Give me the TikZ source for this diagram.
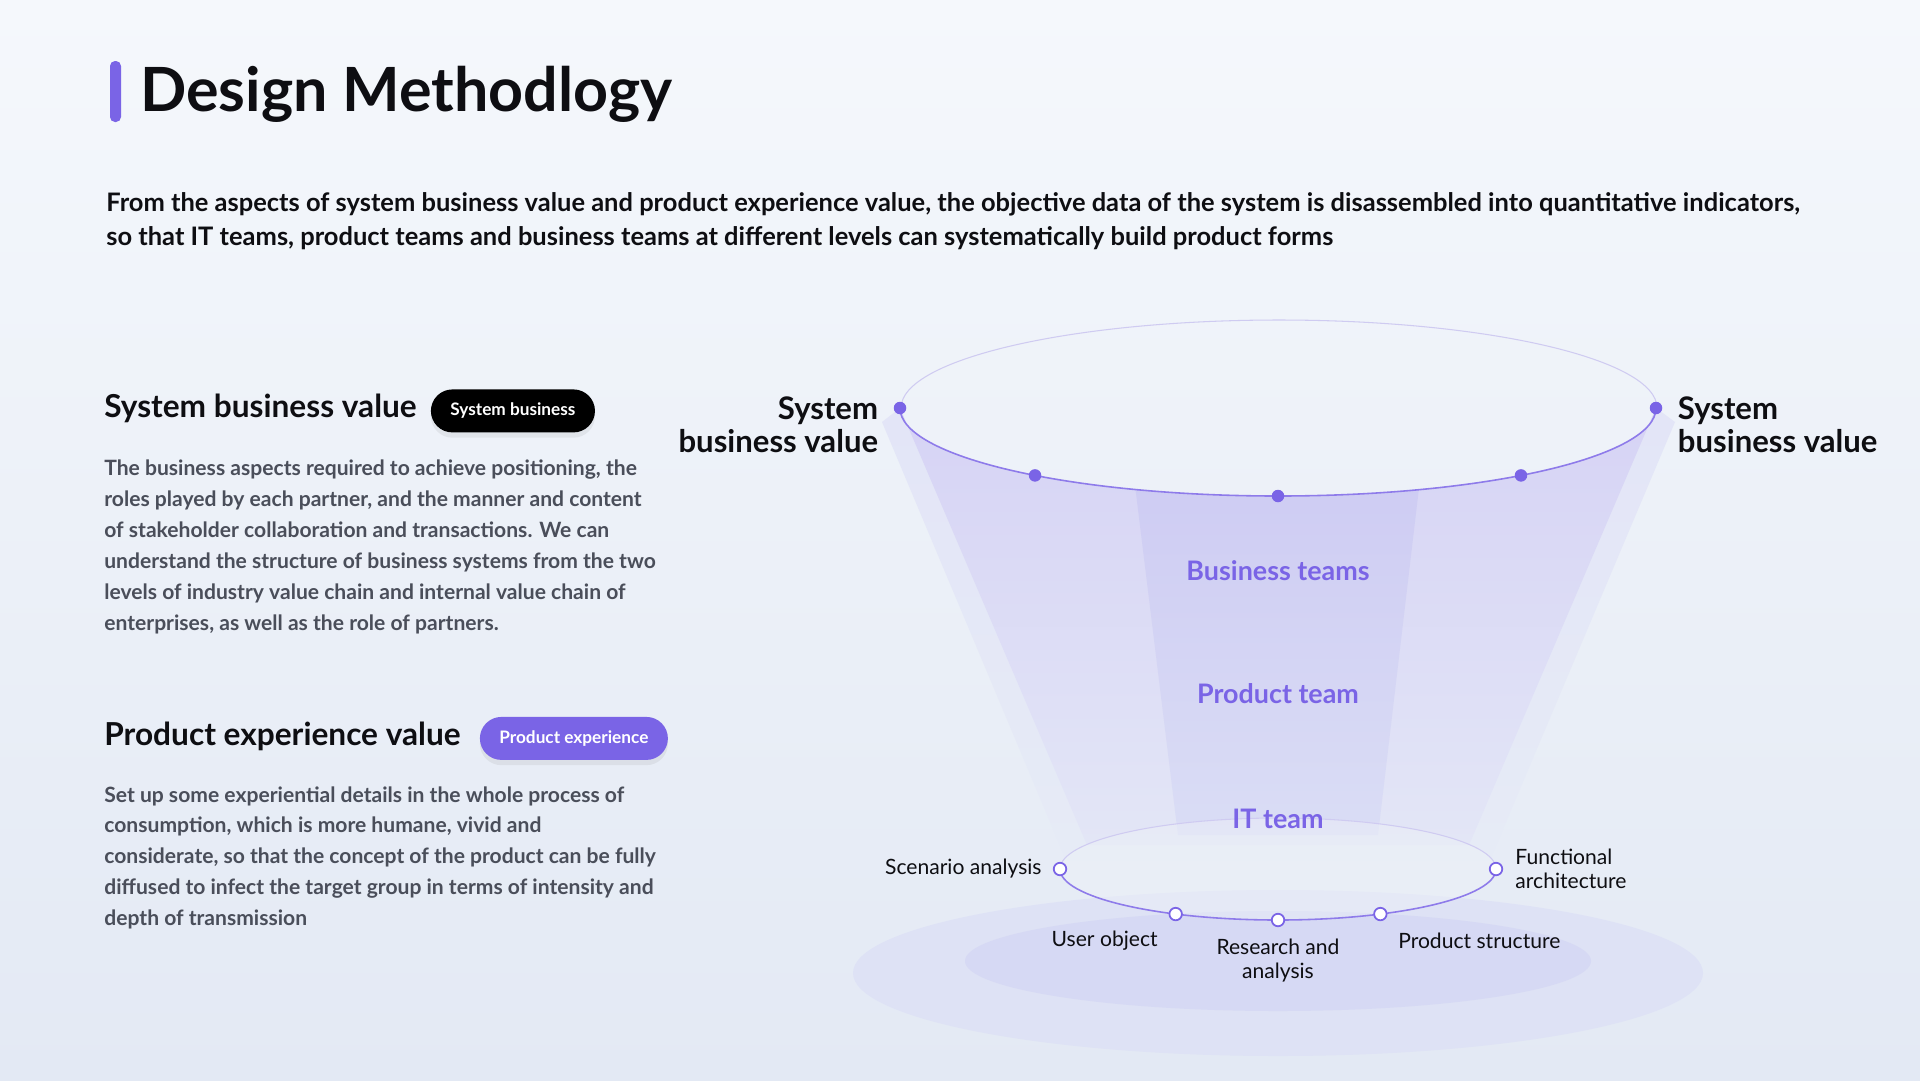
\documentclass[tikz,border=0pt]{standalone}
\usepackage{fontspec}
\setmainfont{Lato}
\usepackage{xcolor}
\usetikzlibrary{positioning,calc,shadows}
\definecolor{accent}{HTML}{7A64E6}
\definecolor{ink}{HTML}{0E0E12}
\definecolor{bodygray}{HTML}{4A4E5A}
\definecolor{bgtop}{HTML}{F5F8FC}
\definecolor{bgbot}{HTML}{E3E9F4}
\definecolor{bodytop}{HTML}{D6D3F5}
\definecolor{bodybot}{HTML}{E3E6F6}
\definecolor{coretop}{HTML}{CCC9F2}
\definecolor{corebot}{HTML}{DADDF5}
\definecolor{bandtop}{HTML}{E3E5F7}
\definecolor{bandbot}{HTML}{E6EBF6}
\definecolor{rimfaint}{HTML}{CFCBF1}
\definecolor{floorout}{HTML}{DEE2F5}
\definecolor{floorin}{HTML}{D6D9F4}

\begin{document}
\begin{tikzpicture}[
  x=0.02cm,y=-0.02cm,
  title/.style={anchor=base west,inner sep=0,font=\fontsize{34.7}{40}\selectfont\bfseries,text=ink},
  lead/.style={anchor=north west,inner sep=0,align=left,font=\fontsize{14.5}{19.3}\selectfont\bfseries,text=ink},
  head/.style={anchor=base west,inner sep=0,font=\fontsize{18}{21}\selectfont\bfseries,text=ink},
  tag/.style={rounded corners=0.43cm,minimum height=0.86cm,inner xsep=0.39cm,font=\fontsize{9.8}{11}\selectfont\bfseries,text=white,
    drop shadow={opacity=0.12,shadow xshift=0pt,shadow yshift=-3pt}},
  para/.style={anchor=north west,inner sep=0,align=left,font=\fontsize{12}{17.6}\selectfont\bfseries,text=bodygray},
  side/.style={inner sep=0,font=\fontsize{17.7}{18.7}\selectfont\bfseries,text=ink},
  level/.style={inner sep=0,font=\fontsize{15.3}{17}\selectfont\bfseries,text=accent},
  item/.style={inner sep=0,font=\fontsize{12}{13.9}\selectfont,text=ink},
  dotfull/.style={circle,fill=accent,inner sep=0,minimum size=0.25cm},
  dothollow/.style={circle,fill=white,draw=accent,line width=1pt,inner sep=0,minimum size=0.25cm}
]
\useasboundingbox (0,0) rectangle (1920,1080);
\shade[top color=bgtop,bottom color=bgbot] (0,0) rectangle (1920,1080);

% heading
\fill[accent,rounded corners=0.1cm] (110,61) rectangle (121,122);
\node[title] (title) at (140,111) {Design Methodlogy};
\node[lead] (intro) at (106,192.5) {From the aspects of system business value and product experience value, the objective data of the system is disassembled into quantitative indicators,\\so that IT teams, product teams and business teams at different levels can systematically build product forms};

% left column
\node[head] (sbvhead) at (104,417.5) {System business value};
\node[tag,fill=black,right=0.27cm of sbvhead.east,anchor=west,yshift=-0.05cm] (sbvtag) {System business};
\node[para] (sbvtext) at (104,459.5) {The business aspects required to achieve positioning, the\\roles played by each partner, and the manner and content\\of stakeholder collaboration and transactions. We can\\understand the structure of business systems from the two\\levels of industry value chain and internal value chain of\\enterprises, as well as the role of partners.};
\node[head] (pevhead) at (104,745) {Product experience value};
\node[tag,fill=accent,right=0.37cm of pevhead.east,anchor=west,yshift=-0.05cm] (pevtag) {Product experience};
\node[para] (pevtext) at (104,786) {Set up some experiential details in the whole process of\\consumption, which is more humane, vivid and\\considerate, so that the concept of the product can be fully\\diffused to infect the target group in terms of intensity and\\depth of transmission};

% funnel
\coordinate (topc) at (1278,408);
\coordinate (botc) at (1278,869);
\fill[floorout] (1278,973) ellipse [x radius=425,y radius=83];
\fill[floorin] (1278,961) ellipse [x radius=313,y radius=50];
\shade[top color=bandtop,bottom color=bandbot] (882,422) -- (900,408) arc[start angle=180,end angle=0,x radius=378,y radius=88]
  -- (1675,422) -- (1490,860) -- (1066,860) -- cycle;
\shade[top color=bodytop,bottom color=bodybot] (900,408) arc[start angle=180,end angle=0,x radius=378,y radius=88]
  -- (1469,845) -- (1087,845) -- cycle;
\begin{scope}
  \clip (900,408) arc[start angle=180,end angle=0,x radius=378,y radius=88] -- (1469,845) -- (1087,845) -- cycle;
  \shade[top color=coretop,bottom color=corebot] (1127,420) -- (1427,420) -- (1378,835) -- (1178,835) -- cycle;
\end{scope}
\fill[bgbot!60!white,fill opacity=0.45] (botc) ellipse [x radius=218,y radius=51];

% rims
\draw[rimfaint,line width=0.6pt] (1657,408) arc[start angle=0,end angle=-180,x radius=378,y radius=88];
\draw[accent!85,line width=0.9pt] (900,408) arc[start angle=180,end angle=0,x radius=378,y radius=88];
\draw[rimfaint,line width=0.6pt] (1496,869) arc[start angle=0,end angle=-180,x radius=218,y radius=51];
\draw[accent!85,line width=0.9pt] (1060,869) arc[start angle=180,end angle=0,x radius=218,y radius=51];

\foreach \a [count=\i] in {180,130,90,50,0}
  \node[dotfull] (t\i) at ($(topc)+(\a:378 and 88)$) {};
\foreach \a [count=\i] in {180,118,90,62,0}
  \node[dothollow] (b\i) at ($(botc)+(\a:218 and 51)$) {};

% labels
\node[side,align=right,left=0.3cm of t1,yshift=-0.33cm] (lsbv) {System\\business value};
\node[side,align=left,right=0.3cm of t5,yshift=-0.33cm] (rsbv) {System\\business value};
\node[level] (biz) at (1278,571) {Business teams};
\node[level] (prod) at (1278,694) {Product team};
\node[level] (it) at (1278,819) {IT team};
\node[item,left=0.22cm of b1] (scen) {Scenario analysis};
\node[item,align=left,right=0.24cm of b5] (func) {Functional\\architecture};
\node[item] (user) at ($(b2)+(-71,27)$) {User object};
\node[item,align=center,below=0.22cm of b3] (research) {Research and\\analysis};
\node[item] (pstruct) at ($(b4)+(99,27)$) {Product structure};
\end{tikzpicture}
\end{document}
